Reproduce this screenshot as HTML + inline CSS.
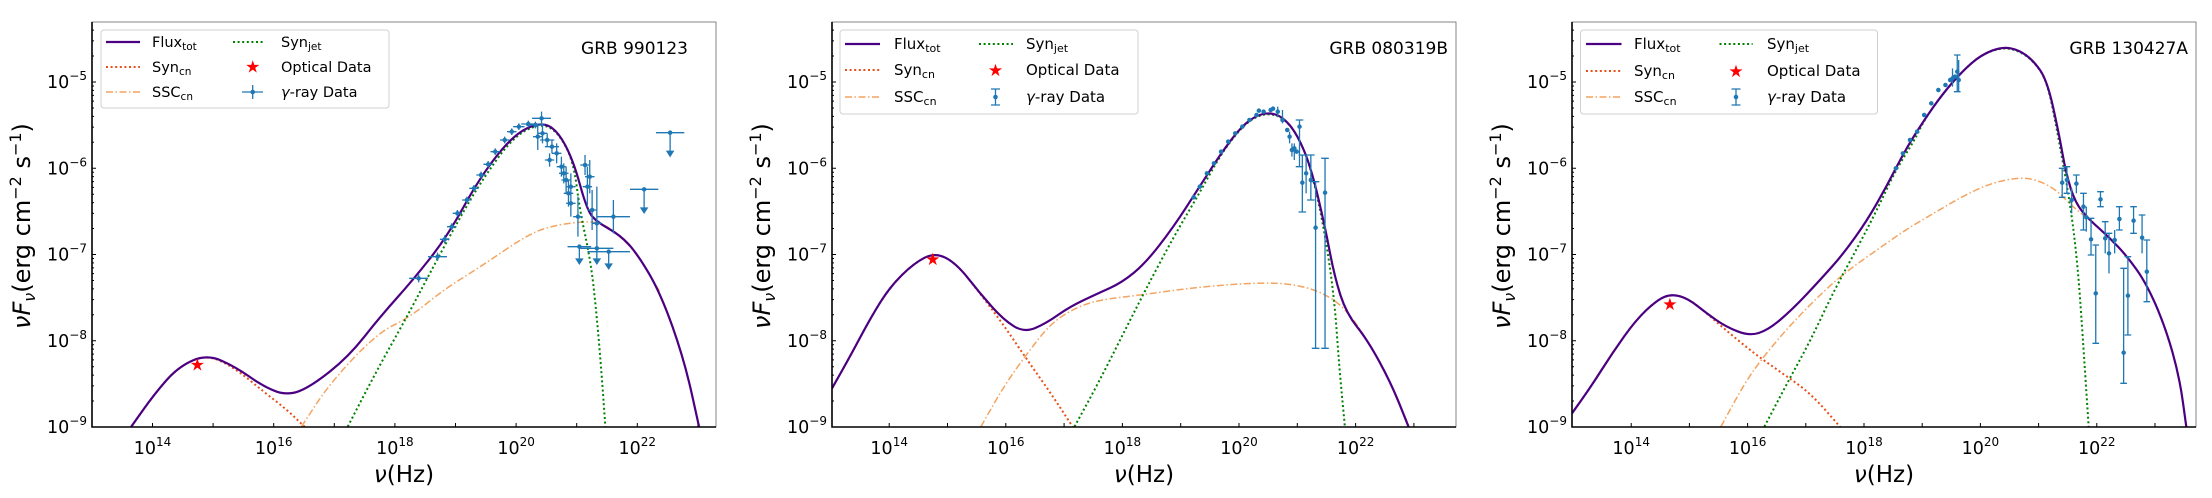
<!DOCTYPE html>
<html><head><meta charset="utf-8"><style>
html,body{margin:0;padding:0;background:#fff}
svg{display:block}
text{font-family:"DejaVu Sans","Liberation Sans",sans-serif;fill:#000}
.ns{vector-effect:non-scaling-stroke;fill:none}
.tot{stroke:#4b0082;stroke-width:2.2;stroke-linejoin:round}
.scn{stroke:#e8501a;stroke-width:2;stroke-dasharray:2 2.6}
.ssc{stroke:#f4a460;stroke-width:1.5;stroke-dasharray:7 2.5 1.5 2.5}
.sj{stroke:#008000;stroke-width:2;stroke-dasharray:2 2.6}
.eb{stroke:#1f77b4;stroke-width:1.3}
.mk{stroke:#1f77b4;stroke-width:4.5;stroke-linecap:round}
.tk{stroke:#000;stroke-width:1}
.tl{font-size:17.5px}
</style></head><body>
<svg id="S" width="2212" height="498" viewBox="0 0 2212 498" xmlns="http://www.w3.org/2000/svg">
<defs>
<clipPath id="c1" clipPathUnits="userSpaceOnUse"><rect x="197" y="65" width="1320" height="1215"/></clipPath>
<clipPath id="c3" clipPathUnits="userSpaceOnUse"><rect x="215" y="65" width="1318" height="1215"/></clipPath>
<g id="yt">
<path class="tk" d="M0 427h4M0 340.75h4M0 254.5h4M0 168.25h4M0 82h4"/>
<path class="tk" d="M0 401h2M0 385.9h2M0 375.1h2M0 366.7h2M0 359.9h2M0 354.1h2M0 349.1h2M0 344.7h2M0 314.75h2M0 299.65h2M0 288.85h2M0 280.45h2M0 273.65h2M0 267.85h2M0 262.85h2M0 258.45h2M0 228.5h2M0 213.4h2M0 202.6h2M0 194.2h2M0 187.4h2M0 181.6h2M0 176.6h2M0 172.2h2M0 142.25h2M0 127.15h2M0 116.35h2M0 107.95h2M0 101.15h2M0 95.35h2M0 90.35h2M0 85.95h2M0 56h2M0 40.9h2M0 30.1h2"/>
<g class="tl" text-anchor="end">
<text x="-5" y="433">10<tspan font-size="12" dy="-8">−9</tspan></text>
<text x="-5" y="346.75">10<tspan font-size="12" dy="-8">−8</tspan></text>
<text x="-5" y="260.5">10<tspan font-size="12" dy="-8">−7</tspan></text>
<text x="-5" y="174.25">10<tspan font-size="12" dy="-8">−6</tspan></text>
<text x="-5" y="88">10<tspan font-size="12" dy="-8">−5</tspan></text>
</g>
</g>
<g id="ylab"><text transform="translate(30,226) rotate(-90)" text-anchor="middle" font-size="24"><tspan font-style="italic">ν</tspan><tspan font-style="italic">F</tspan><tspan font-size="16" font-style="italic" dy="5">ν</tspan><tspan dy="-5">(erg cm</tspan><tspan font-size="16" dy="-9">−2</tspan><tspan dy="9"> s</tspan><tspan font-size="16" dy="-9">−1</tspan><tspan dy="9">)</tspan></text></g>
</defs>

<!-- ================= PANEL 1 ================= -->
<rect x="92" y="22" width="624" height="405" fill="#fff" stroke="#666" stroke-width="0.8"/>
<use href="#yt" transform="translate(92,0)"/>
<use href="#ylab" transform="translate(0,0)"/>
<path class="tk" d="M152.5 427v-4M213.1 427v-4M273.7 427v-4M334.3 427v-4M394.9 427v-4M455.5 427v-4M516.1 427v-4M576.7 427v-4M637.3 427v-4M697.9 427v-4"/>
<g class="tl" text-anchor="middle">
<text x="152.5" y="454">10<tspan font-size="12" dy="-8">14</tspan></text>
<text x="273.7" y="454">10<tspan font-size="12" dy="-8">16</tspan></text>
<text x="394.9" y="454">10<tspan font-size="12" dy="-8">18</tspan></text>
<text x="516.1" y="454">10<tspan font-size="12" dy="-8">20</tspan></text>
<text x="637.3" y="454">10<tspan font-size="12" dy="-8">22</tspan></text>
</g>
<text x="404" y="482" text-anchor="middle" font-size="23"><tspan font-style="italic">ν</tspan>(Hz)</text>
<g transform="translate(-1.12,0) scale(0.4727,0.33333)" clip-path="url(#c1)">
<polyline class="ns ssc" points="640,1280 700,1150 800,1000 870,951 940,870 1018,801 1124,699 1180,675 1229,666 1265,665 1300,690 1350,760 1400,880"/>
<polyline class="ns scn" points="280,1280 330,1180 380,1100 440,1063 500,1105 560,1175 610,1230 650,1285"/>
<polyline class="ns sj" points="738,1280 800,1110 863,951 912,819 969,669 1018,549 1088,410 1145,370 1181,393 1215,480 1229,630 1244,729 1255,819 1265,951 1275,1120 1283,1280"/>
<polyline class="ns tot" points="280,1280 330,1180 380,1100 440,1063 500,1100 560,1160 610,1187 660,1160 740,1070 806,951 876,840 948,711 1018,531 1088,405 1145,366 1181,390 1215,480 1244,630 1265,666 1314,705 1350,760 1400,880 1450,1080 1482,1285"/>
<path class="ns eb" d="M868 835H908M888 823V847M908 770H948M928 758V782M933 718H953M943 706V730M948 680H968M958 670V690M960 640H980M970 630V650M980 600H1000M990 590V610M995 565H1015M1005 555V575M1010 525H1030M1020 515V535M1025 493H1045M1035 483V503M1040 455H1060M1050 445V465M1060 420H1080M1070 410V430M1075 395H1095M1085 385V405M1088 380H1112M1100 370V390M1105 372H1135M1120 362V382M1115 375H1155M1135 365V385M1128 355H1168M1148 335V375M1130 410H1150M1140 370V450M1140 400H1160M1150 370V430M1145 420H1175M1160 400V440M1155 440H1185M1170 420V460M1155 480H1175M1165 460V500M1170 460H1190M1180 430V490M1180 500H1200M1190 470V530M1190 540H1210M1200 500V580M1200 560H1220M1210 520V600M1185 520H1205M1195 490V550M1195 580H1215M1205 540V620M1230 495H1250M1240 465V525M1240 530H1260M1250 480V580M1215 650H1235M1225 590V710M1245 630H1265M1255 570V690M1255 670H1275M1265 560V780M1265 650H1335M1300 600V700M1200 610H1220M1210 570V650M1235 560H1255M1245 500V620M1203 740H1253M1228 740V775M1230 745H1300M1265 745V775M1245 755H1335M1290 755V790M1335 568H1395M1365 568V625M1390 398H1450M1420 398V455"/>
<path d="M1219 775L1237 775L1228 795ZM1256 775L1274 775L1265 795ZM1281 790L1299 790L1290 810ZM1356 622L1374 622L1365 642ZM1411 452L1429 452L1420 472Z" fill="#1f77b4"/>
<path class="ns mk" d="M888 835h.1M928 770h.1M943 718h.1M958 680h.1M970 640h.1M990 600h.1M1005 565h.1M1020 525h.1M1035 493h.1M1050 455h.1M1070 420h.1M1085 395h.1M1100 380h.1M1120 372h.1M1135 375h.1M1148 355h.1M1140 410h.1M1150 400h.1M1160 420h.1M1170 440h.1M1165 480h.1M1180 460h.1M1190 500h.1M1200 540h.1M1210 560h.1M1195 520h.1M1205 580h.1M1240 495h.1M1250 530h.1M1225 650h.1M1255 630h.1M1265 670h.1M1300 650h.1M1210 610h.1M1245 560h.1M1228 740h.1M1265 745h.1M1290 755h.1M1365 568h.1M1420 398h.1"/>
</g>
<text x="197.4" y="370.5" text-anchor="middle" font-size="17" style="fill:#ff0000">★</text>
<path d="M92 22V427H716" fill="none" stroke="#000" stroke-width="1.6"/>
<rect x="101" y="30" width="288" height="78" rx="3" fill="#fff" fill-opacity="0.85" stroke="#d0d0d0" stroke-width="1"/>
<line x1="106" y1="42" x2="140" y2="42" stroke="#4b0082" stroke-width="2.2"/>
<line x1="106" y1="67" x2="140" y2="67" class="scn"/>
<line x1="106" y1="92" x2="140" y2="92" class="ssc"/>
<line x1="233" y1="42" x2="264" y2="42" class="sj"/>
<text x="252.7" y="72.5" text-anchor="middle" font-size="17" style="fill:#ff0000">★</text>
<path d="M242 92H263M252.7 85V99" stroke="#1f77b4" stroke-width="1.3"/><circle cx="252.7" cy="92" r="2.3" fill="#1f77b4"/>
<g font-size="14.5">
<text x="152" y="47">Flux<tspan font-size="10.5" dy="3">tot</tspan></text>
<text x="152" y="72">Syn<tspan font-size="10.5" dy="3">cn</tspan></text>
<text x="152" y="97">SSC<tspan font-size="10.5" dy="3">cn</tspan></text>
<text x="281" y="47">Syn<tspan font-size="10.5" dy="3">jet</tspan></text>
<text x="281" y="72">Optical Data</text>
<text x="281" y="97"><tspan font-style="italic">γ</tspan>-ray Data</text>
</g>
<text x="688" y="54" text-anchor="end" font-size="17">GRB 990123</text>

<!-- ================= PANEL 2 ================= -->
<rect x="832" y="22" width="624" height="405" fill="#fff" stroke="#666" stroke-width="0.8"/>
<use href="#yt" transform="translate(832,0)"/>
<use href="#ylab" transform="translate(740,0)"/>
<path class="tk" d="M889.2 427v-4M947.5 427v-4M1005.8 427v-4M1064.1 427v-4M1122.4 427v-4M1180.7 427v-4M1239 427v-4M1297.3 427v-4M1355.6 427v-4M1413.9 427v-4"/>
<g class="tl" text-anchor="middle">
<text x="889.2" y="454">10<tspan font-size="12" dy="-8">14</tspan></text>
<text x="1005.8" y="454">10<tspan font-size="12" dy="-8">16</tspan></text>
<text x="1122.4" y="454">10<tspan font-size="12" dy="-8">18</tspan></text>
<text x="1239" y="454">10<tspan font-size="12" dy="-8">20</tspan></text>
<text x="1355.6" y="454">10<tspan font-size="12" dy="-8">22</tspan></text>
</g>
<text x="1144" y="482" text-anchor="middle" font-size="23"><tspan font-style="italic">ν</tspan>(Hz)</text>
<g transform="translate(738.88,0) scale(0.4727,0.33333)" clip-path="url(#c1)">
<polyline class="ns ssc" points="512,1280 560,1160 610,1060 660,970 710,925 760,900 850,885 950,865 1050,852 1130,848 1180,855 1230,875 1280,920 1330,1020 1380,1150 1418,1280"/>
<polyline class="ns scn" points="197,1165 235,1070 280,950 320,860 370,790 415,757 460,790 510,880 560,975 610,1080 660,1180 706,1280"/>
<polyline class="ns sj" points="710,1280 760,1150 810,1010 860,870 920,710 970,590 1020,462 1060,388 1090,352 1120,340 1150,352 1180,400 1210,500 1240,700 1260,900 1270,1100 1282,1280"/>
<polyline class="ns tot" points="197,1165 235,1070 280,950 320,860 370,790 415,757 460,790 510,880 560,960 604,998 650,970 700,920 760,880 810,848 860,790 920,680 970,570 1020,460 1060,385 1090,350 1120,337 1150,350 1180,400 1210,500 1240,680 1260,830 1285,940 1330,1020 1380,1150 1418,1285"/>
<path class="ns eb" d="M1186 360V500M1178 360H1194M1178 500H1194M1192 465V636M1184 465H1200M1184 636H1200M1200 465V580M1210 465V600M1202 465H1218M1202 600H1218M1220 545V1045M1212 545H1228M1212 1045H1228M1240 475V1045M1232 475H1248M1232 1045H1248M1140 320V350M1150 330V370M1165 395V430M1170 430V470M1175 430V480"/>
<path class="ns mk" d="M962 592h.1M975 560h.1M990 520h.1M1005 490h.1M1020 455h.1M1035 425h.1M1050 400h.1M1065 380h.1M1080 360h.1M1095 345h.1M1110 335h.1M1125 330h.1M1140 335h.1M1150 360h.1M1160 390h.1M1165 410h.1M1170 450h.1M1175 445h.1M1180 455h.1M1186 380h.1M1192 548h.1M1200 520h.1M1210 540h.1M1220 683h.1M1240 578h.1M1100 332h.1M1130 326h.1"/>
</g>
<text x="932.7" y="265" text-anchor="middle" font-size="17" style="fill:#ff0000">★</text>
<path d="M832 22V427H1456" fill="none" stroke="#000" stroke-width="1.6"/>
<rect x="840" y="30" width="298" height="84" rx="3" fill="#fff" fill-opacity="0.85" stroke="#d0d0d0" stroke-width="1"/>
<line x1="845" y1="44" x2="880" y2="44" stroke="#4b0082" stroke-width="2.2"/>
<line x1="845" y1="70" x2="880" y2="70" class="scn"/>
<line x1="845" y1="97" x2="880" y2="97" class="ssc"/>
<line x1="979" y1="44" x2="1013" y2="44" class="sj"/>
<text x="995.5" y="76" text-anchor="middle" font-size="17" style="fill:#ff0000">★</text>
<path d="M995.5 89V105M991 89H1000M991 105H1000" stroke="#1f77b4" stroke-width="1.3"/><circle cx="995.5" cy="97" r="2.3" fill="#1f77b4"/>
<g font-size="15">
<text x="894" y="49">Flux<tspan font-size="11" dy="3">tot</tspan></text>
<text x="894" y="75">Syn<tspan font-size="11" dy="3">cn</tspan></text>
<text x="894" y="102">SSC<tspan font-size="11" dy="3">cn</tspan></text>
<text x="1026" y="49">Syn<tspan font-size="11" dy="3">jet</tspan></text>
<text x="1026" y="75">Optical Data</text>
<text x="1026" y="102"><tspan font-style="italic">γ</tspan>-ray Data</text>
</g>
<text x="1448" y="54" text-anchor="end" font-size="17">GRB 080319B</text>

<!-- ================= PANEL 3 ================= -->
<rect x="1572" y="22" width="624" height="405" fill="#fff" stroke="#666" stroke-width="0.8"/>
<use href="#yt" transform="translate(1572,0)"/>
<use href="#ylab" transform="translate(1480,0)"/>
<path class="tk" d="M1631.2 427v-4M1689.4 427v-4M1747.6 427v-4M1805.8 427v-4M1864 427v-4M1922.2 427v-4M1980.4 427v-4M2038.6 427v-4M2096.8 427v-4M2155 427v-4"/>
<g class="tl" text-anchor="middle">
<text x="1631.2" y="454">10<tspan font-size="12" dy="-8">14</tspan></text>
<text x="1747.6" y="454">10<tspan font-size="12" dy="-8">16</tspan></text>
<text x="1864" y="454">10<tspan font-size="12" dy="-8">18</tspan></text>
<text x="1980.4" y="454">10<tspan font-size="12" dy="-8">20</tspan></text>
<text x="2096.8" y="454">10<tspan font-size="12" dy="-8">22</tspan></text>
</g>
<text x="1884" y="482" text-anchor="middle" font-size="23"><tspan font-style="italic">ν</tspan>(Hz)</text>
<g transform="translate(1470.37,0) scale(0.4727,0.33333)" clip-path="url(#c3)">
<polyline class="ns ssc" points="530,1280 580,1150 620,1070 680,970 750,870 800,810 860,750 920,690 980,640 1040,590 1100,550 1160,532 1200,540 1240,570 1270,615 1310,660 1350,710 1390,770 1430,850 1470,980 1500,1130 1515,1280"/>
<polyline class="ns scn" points="215,1240 255,1160 300,1060 350,960 395,900 425,882 460,895 500,940 540,990 600,1060 660,1120 720,1180 785,1285"/>
<polyline class="ns sj" points="622,1280 670,1150 720,1020 770,870 820,740 860,630 900,510 940,420 960,360 1000,280 1040,215 1080,165 1125,142 1160,152 1190,182 1220,240 1245,420 1270,620 1285,800 1295,1000 1308,1280"/>
<polyline class="ns tot" points="215,1240 255,1160 300,1060 350,960 395,900 425,882 460,895 500,940 540,980 590,1008 630,990 680,930 740,840 790,760 840,660 880,560 920,450 960,360 1000,280 1040,215 1080,165 1125,140 1160,150 1190,180 1220,240 1245,400 1260,520 1280,610 1310,660 1350,710 1390,770 1430,850 1470,980 1500,1130 1515,1285"/>
<path class="ns eb" d="M1030 165V275M1023 165H1037M1023 275H1037M1033 180V275M1020 205V260M1252 505V592M1245 505H1259M1245 592H1259M1262 500V580M1255 500H1269M1255 580H1269M1272 565V640M1282 525V580M1275 525H1289M1297 580V690M1290 580H1304M1290 690H1304M1303 620V695M1313 655V765M1306 655H1320M1306 765H1320M1323 735V1030M1316 735H1330M1316 1030H1330M1333 575V620M1326 575H1340M1326 620H1340M1343 665V760M1336 665H1350M1351 700V820M1344 700H1358M1363 690V760M1373 620V690M1366 620H1380M1366 690H1380M1382 805V1150M1375 805H1389M1375 1150H1389M1391 770V1005M1384 770H1398M1384 1005H1398M1403 620V700M1396 620H1410M1396 700H1410M1421 645V760M1414 645H1428M1431 720V905M1424 720H1438M1424 905H1438"/>
<path class="ns mk" d="M900 505h.1M915 460h.1M930 420h.1M945 395h.1M960 345h.1M975 310h.1M990 270h.1M1005 255h.1M1015 240h.1M1025 230h.1M1030 215h.1M1033 240h.1M1020 235h.1M1252 548h.1M1262 540h.1M1272 600h.1M1282 551h.1M1297 620h.1M1303 652h.1M1313 718h.1M1323 880h.1M1333 598h.1M1343 715h.1M1351 760h.1M1363 720h.1M1373 657h.1M1382 1058h.1M1391 887h.1M1403 662h.1M1421 713h.1M1431 815h.1"/>
</g>
<text x="1669.9" y="310" text-anchor="middle" font-size="17" style="fill:#ff0000">★</text>
<path d="M1572 22V427H2196" fill="none" stroke="#000" stroke-width="1.6"/>
<rect x="1580.5" y="30" width="297" height="84" rx="3" fill="#fff" fill-opacity="0.85" stroke="#d0d0d0" stroke-width="1"/>
<line x1="1586" y1="44" x2="1621.5" y2="44" stroke="#4b0082" stroke-width="2.2"/>
<line x1="1586" y1="71" x2="1621.5" y2="71" class="scn"/>
<line x1="1586" y1="97" x2="1621.5" y2="97" class="ssc"/>
<line x1="1719.5" y1="44" x2="1752.6" y2="44" class="sj"/>
<text x="1736" y="77" text-anchor="middle" font-size="17" style="fill:#ff0000">★</text>
<path d="M1736 89V105M1731.5 89H1740.5M1731.5 105H1740.5" stroke="#1f77b4" stroke-width="1.3"/><circle cx="1736" cy="97" r="2.3" fill="#1f77b4"/>
<g font-size="15">
<text x="1634" y="49">Flux<tspan font-size="11" dy="3">tot</tspan></text>
<text x="1634" y="76">Syn<tspan font-size="11" dy="3">cn</tspan></text>
<text x="1634" y="102">SSC<tspan font-size="11" dy="3">cn</tspan></text>
<text x="1767" y="49">Syn<tspan font-size="11" dy="3">jet</tspan></text>
<text x="1767" y="76">Optical Data</text>
<text x="1767" y="102"><tspan font-style="italic">γ</tspan>-ray Data</text>
</g>
<text x="2188" y="54" text-anchor="end" font-size="17">GRB 130427A</text>
</svg>
<script>
(function(){
var NS="http://www.w3.org/2000/svg";
var pls=document.querySelectorAll("polyline.ns");
for(var i=0;i<pls.length;i++){
 var pl=pls[i];
 var nums=pl.getAttribute("points").trim().split(/[\s,]+/).map(Number);
 var p=[];for(var j=0;j<nums.length;j+=2)p.push([nums[j],nums[j+1]]);
 if(p.length<3)continue;
 var d="M"+p[0][0]+" "+p[0][1];
 var m=function(a,b){return ((a[0]+b[0])/2)+" "+((a[1]+b[1])/2);};
 d+=" L"+m(p[0],p[1]);
 for(var k=1;k<p.length-1;k++){d+=" Q"+p[k][0]+" "+p[k][1]+" "+m(p[k],p[k+1]);}
 d+=" L"+p[p.length-1][0]+" "+p[p.length-1][1];
 var path=document.createElementNS(NS,"path");
 path.setAttribute("d",d);
 path.setAttribute("class",pl.getAttribute("class"));
 pl.parentNode.replaceChild(path,pl);
}
})();
</script>
</body></html>
